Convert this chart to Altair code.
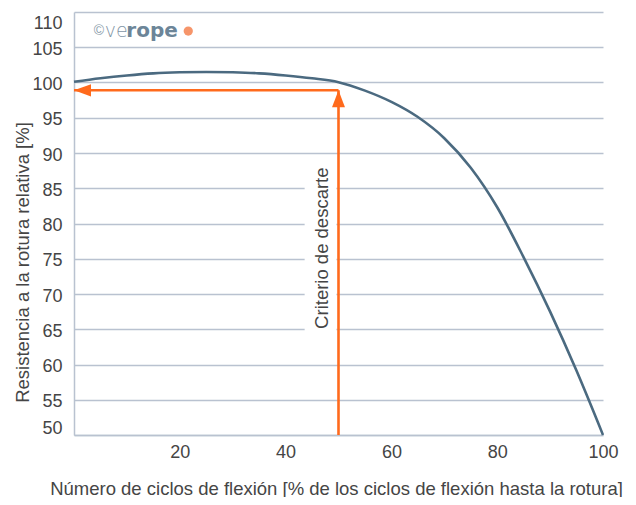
import altair as alt
import pandas as pd

# ---- data ----
cycles = [0, 5, 10, 15, 20, 25, 30, 35, 40, 45, 50, 55, 60, 65, 70, 75, 80, 85, 90, 95, 100]
strength = [100.1, 100.6, 101.0, 101.3, 101.45, 101.5, 101.45, 101.3, 101.0, 100.6, 100.05,
            98.85, 97.25, 95.1, 92.1, 87.9, 82.3, 75.2, 67.5, 59.1, 50.0]
x_ticks = [20, 40, 60, 80, 100]
y_ticks = [50, 55, 60, 65, 70, 75, 80, 85, 90, 95, 100, 105, 110]

discard_x = 50
discard_y = 98.9
discard_label = "Criterio de descarte"
label_x = 46.8
label_y = 76.5
label_box_x = [43.6, 49.6]
label_box_y = [64.3, 88.8]

logo_parts = ["©", "ve", "rope"]
logo_x = [4.7, 5.8, 9.9]
logo_y = 107.3
logo_dot_x = 21.6

x_title = "Número de ciclos de flexión [% de los ciclos de flexión hasta la rotura]"
y_title = "Resistencia a la rotura relativa [%]"

GRID = "#b9c2d0"
LINE = "#4b6a80"
ORANGE = "#ff6a1c"
TXT = "#454545"
LOGO = "#6c8598"

xs = alt.Scale(domain=[0, 100], nice=False, zero=False)
ys = alt.Scale(domain=[50, 110], nice=False, zero=False)

x_axis = alt.Axis(
    values=x_ticks, title=x_title, grid=False, ticks=False, domain=True,
    domainColor=GRID, domainWidth=1.5, labelFont="Liberation Sans", labelFontSize=18,
    labelColor=TXT, labelPadding=8, labelFlush=False, labelOverlap=False,
    titleFont="Liberation Sans", titleFontSize=18.5,
    titleFontWeight="normal", titleColor=TXT, titleX=262, titleY=53,
    titleAlign="center", titleBaseline="middle")
y_axis = alt.Axis(
    values=y_ticks, title=y_title, grid=True, gridColor=GRID, gridWidth=1.3,
    ticks=False, domain=True, domainColor=GRID, domainWidth=1.5,
    labelFont="Liberation Sans", labelFontSize=18, labelColor=TXT, labelPadding=12,
    labelOverlap=False, labelFlush=True, labelOffset=2,
    titleFont="Liberation Sans", titleFontSize=18.5, titleFontWeight="normal",
    titleColor=TXT, titleX=-52, titleY=250, titleAlign="center",
    titleBaseline="middle", titleAngle=-90)


def X(field="x"):
    return alt.X(f"{field}:Q", scale=xs, axis=x_axis)


def Y(field="y"):
    return alt.Y(f"{field}:Q", scale=ys, axis=y_axis)


curve_df = pd.DataFrame({"x": cycles, "y": strength})
curve = alt.Chart(curve_df).mark_line(
    color=LINE, strokeWidth=2.6, interpolate="monotone").encode(x=X(), y=Y())

box_df = pd.DataFrame({"x": [label_box_x[0]], "x2": [label_box_x[1]],
                       "y": [label_box_y[0]], "y2": [label_box_y[1]]})
box = alt.Chart(box_df).mark_rect(color="white").encode(
    x=X(), x2="x2:Q", y=Y(), y2="y2:Q")

h_df = pd.DataFrame({"x": [0], "x2": [discard_x], "y": [discard_y]})
h_rule = alt.Chart(h_df).mark_rule(color=ORANGE, strokeWidth=2.6).encode(
    x=X(), x2="x2:Q", y=Y())

v_df = pd.DataFrame({"x": [discard_x], "y": [50], "y2": [discard_y]})
v_rule = alt.Chart(v_df).mark_rule(color=ORANGE, strokeWidth=2.6).encode(
    x=X(), y=Y(), y2="y2:Q")

left_head = alt.Chart(pd.DataFrame({"x": [0], "y": [discard_y]})).mark_point(
    shape="M0,0L2,-0.72L2,0.72Z", size=289, filled=True, opacity=1,
    color=ORANGE, strokeWidth=0).encode(x=X(), y=Y())
up_head = alt.Chart(pd.DataFrame({"x": [discard_x], "y": [discard_y]})).mark_point(
    shape="M0,0L0.76,2L-0.76,2Z", size=289, filled=True, opacity=1,
    color=ORANGE, strokeWidth=0).encode(x=X(), y=Y())

label = alt.Chart(pd.DataFrame({"x": [label_x], "y": [label_y], "t": [discard_label]})).mark_text(
    angle=270, font="Liberation Sans", fontSize=18.5, color=TXT, align="center",
    baseline="middle").encode(x=X(), y=Y(), text="t:N")

logo_c = alt.Chart(pd.DataFrame({"x": [logo_x[0]], "y": [logo_y], "t": [logo_parts[0]]})).mark_text(
    font="Liberation Sans", fontSize=14, color="#8a9cab", align="center", baseline="middle",
    fontWeight="normal").encode(x=X(), y=Y(), text="t:N")
logo_ve = alt.Chart(pd.DataFrame({"x": [logo_x[1]], "y": [logo_y], "t": [logo_parts[1]]})).mark_text(
    font="DejaVu Sans", fontSize=19, color="#7f95a6", align="left", baseline="middle",
    fontWeight=300).encode(x=X(), y=Y(), text="t:N")
logo_rope = alt.Chart(pd.DataFrame({"x": [logo_x[2]], "y": [logo_y], "t": [logo_parts[2]]})).mark_text(
    font="DejaVu Sans", fontSize=20, color=LOGO, align="left", baseline="middle",
    fontWeight="bold").encode(x=X(), y=Y(), text="t:N")
logo_dot = alt.Chart(pd.DataFrame({"x": [logo_dot_x], "y": [logo_y]})).mark_point(
    shape="circle", size=85, filled=True, opacity=0.8, color="#f47a45").encode(
    x=X(), y=Y())

chart = alt.layer(
    box, curve, h_rule, v_rule, left_head, up_head, label,
    logo_c, logo_ve, logo_rope, logo_dot
).properties(
    width=529, height=423,
    autosize=alt.AutoSizeParams(type="none"),
    padding={"left": 66, "top": 4, "right": 25, "bottom": 62},
    background="white",
).configure_view(stroke=None)

chart.save("out.html", embed_options={"renderer": "svg", "actions": False})
